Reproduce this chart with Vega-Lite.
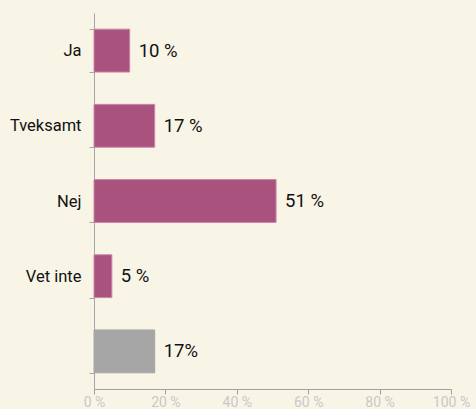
{
  "$schema": "https://vega.github.io/schema/vega-lite/v6.json",
  "width": 357,
  "height": 376,
  "autosize": "none",
  "padding": {"left": 94, "top": 13, "right": 25, "bottom": 20},
  "background": "#f8f5e7",
  "config": {"view": {"stroke": null}, "font": "Roboto"},
  "data": {"values": [
    {"cat": "Ja", "value": 10, "label": "10 %", "group": "a"},
    {"cat": "Tveksamt", "value": 17, "label": "17 %", "group": "a"},
    {"cat": "Nej", "value": 51, "label": "51 %", "group": "a"},
    {"cat": "Vet inte", "value": 5, "label": "5 %", "group": "a"},
    {"cat": " ", "value": 17, "label": "17%", "group": "b"}
  ]},
  "encoding": {
    "y": {"field": "cat", "type": "nominal", "sort": null,
      "scale": {"paddingInner": 0.43, "paddingOuter": 0.215},
      "axis": {"title": null, "tickBand": "extent", "domainColor": "#a6a6a6", "tickColor": "#a6a6a6", "tickSize": 5, "labelPadding": 8, "labelFontSize": 16.5, "labelColor": "#111111", "labelFont": "Roboto"}},
    "x": {"field": "value", "type": "quantitative",
      "scale": {"domain": [0, 100]},
      "axis": {"title": null, "grid": false, "values": [0, 20, 40, 60, 80, 100], "labelExpr": "datum.value + ' %'", "domainColor": "#a0a0a0", "tickColor": "#a0a0a0", "tickSize": 5, "labelColor": "#c8c8c8", "labelFontSize": 14, "labelPadding": 1, "labelFlush": false, "labelOverlap": false}}
  },
  "layer": [
    {"mark": {"type": "bar", "strokeWidth": 1},
     "encoding": {
       "color": {"field": "group", "type": "nominal", "legend": null, "scale": {"domain": ["a", "b"], "range": ["#a9527e", "#a6a6a6"]}},
       "stroke": {"field": "group", "type": "nominal", "legend": null, "scale": {"domain": ["a", "b"], "range": ["#cc86a8", "#a6a6a6"]}}
     }},
    {"mark": {"type": "text", "align": "left", "dx": 9, "fontSize": 18.5, "color": "#111111", "font": "Roboto"},
     "encoding": {"text": {"field": "label"}}}
  ]
}
